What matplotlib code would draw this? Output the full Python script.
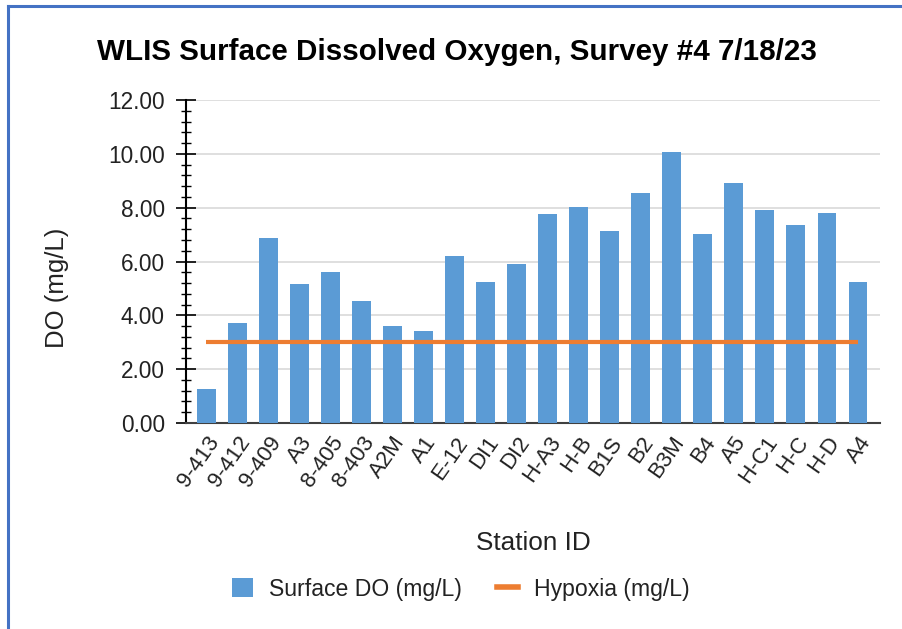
import numpy as np
import matplotlib.pyplot as plt
from matplotlib.ticker import MultipleLocator, FormatStrFormatter
from matplotlib.lines import Line2D
from matplotlib.patches import Patch

plt.rcParams['font.family'] = ['Liberation Sans', 'DejaVu Sans']

# station names and surface DO readings (mg/L)
stations = ['9-413', '9-412', '9-409', 'A3', '8-405', '8-403', 'A2M', 'A1',
            'E-12', 'DI1', 'DI2', 'H-A3', 'H-B', 'B1S', 'B2', 'B3M', 'B4',
            'A5', 'H-C1', 'H-C', 'H-D', 'A4']
surface_do = [1.26, 3.71, 6.87, 5.16, 5.61, 4.53, 3.60, 3.42,
              6.20, 5.24, 5.91, 7.76, 8.02, 7.13, 8.54, 10.07, 7.02,
              8.92, 7.91, 7.36, 7.80, 5.24]
hypoxia = [3.0] * len(stations)

bar_color = '#5B9BD5'
line_color = '#ED7D31'
text_color = '#222222'

fig = plt.figure(figsize=(9.02, 6.29), dpi=100)
ax = fig.add_axes([0.206, 0.3275, 0.770, 0.5135])

x = np.arange(len(stations))
ax.bar(x, surface_do, width=0.61, color=bar_color, zorder=3)
ax.plot(x, hypoxia, color=line_color, linewidth=3, zorder=4,
        solid_capstyle='butt')

ax.set_xlim(-0.66, len(stations) - 1 + 0.72)
ax.set_ylim(0, 12)
ax.yaxis.set_major_locator(MultipleLocator(2))
ax.yaxis.set_minor_locator(MultipleLocator(0.4))
ax.yaxis.set_major_formatter(FormatStrFormatter('%.2f'))
ax.tick_params(axis='y', which='major', direction='inout', length=14,
               width=1.2, labelsize=16.3, pad=8, colors='black',
               labelcolor=text_color)
ax.tick_params(axis='y', which='minor', direction='inout', length=7,
               width=1.0)
ax.grid(axis='y', which='major', color='#D9D9D9', linewidth=1.2, zorder=0)

ax.set_xticks(x)
ax.set_xticklabels(stations, rotation=55, ha='right', rotation_mode='anchor')
ax.tick_params(axis='x', length=0, labelsize=16, pad=7,
               labelcolor=text_color)

for side in ['top', 'right']:
    ax.spines[side].set_visible(False)
ax.spines['left'].set_color('black')
ax.spines['left'].set_linewidth(1.5)
ax.spines['bottom'].set_color('#404040')
ax.spines['bottom'].set_linewidth(1.5)

ax.set_ylabel('DO (mg/L)', fontsize=18.5, color=text_color)
ax.yaxis.set_label_coords(-0.168, 0.418)
ax.set_xlabel('Station ID', fontsize=18.8, color=text_color)
ax.xaxis.set_label_coords(0.5, -0.333)

fig.text(0.507, 0.917, 'WLIS Surface Dissolved Oxygen, Survey #4 7/18/23',
         ha='center', va='center', fontsize=21.3, fontweight='bold')

handles = [Patch(facecolor=bar_color, edgecolor='none'),
           Line2D([0], [0], color=line_color, linewidth=4)]
fig.legend(handles, ['Surface DO (mg/L)', 'Hypoxia (mg/L)'],
           loc='center', bbox_to_anchor=(0.511, 0.063), ncol=2,
           frameon=False, fontsize=16.6, handlelength=0.9, handleheight=0.9,
           columnspacing=1.5, handletextpad=0.7, labelcolor=text_color)

# blue frame along top and left edges
fig.add_artist(Line2D([0.0085, 0.0085], [0, 0.991], color='#4472C4',
                      linewidth=2.2, transform=fig.transFigure))
fig.add_artist(Line2D([0.0085, 1.0], [0.991, 0.991], color='#4472C4',
                      linewidth=2.2, transform=fig.transFigure))

fig.savefig('out.png', dpi=100)
